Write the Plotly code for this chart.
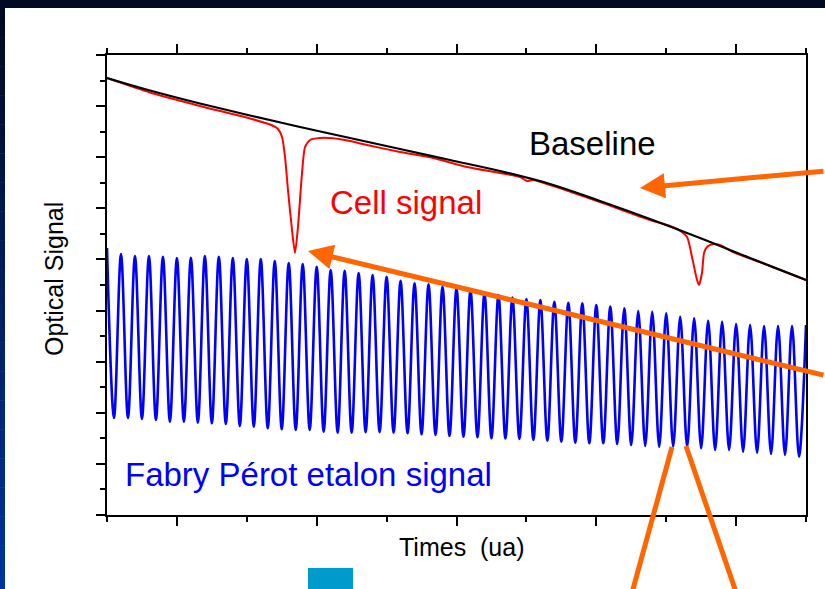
import numpy as np
import plotly.graph_objects as go

# ---- data (time in arbitrary units, optical signal in arbitrary units) ----
baseline_t = [0.0, 0.615, 1.330, 2.046, 2.761, 3.476, 4.192, 4.907, 5.622, 6.338,
              7.053, 7.768, 8.484, 9.199, 10.0]
baseline_v = [8.550, 8.305, 8.051, 7.816, 7.591, 7.376, 7.161, 6.946, 6.730, 6.476,
              6.144, 5.792, 5.420, 5.028, 4.598]

cell_t = [0.0, 0.615, 1.330, 2.046, 2.332, 2.446, 2.504, 2.547, 2.589, 2.647, 2.690,
          2.732, 2.790, 2.833, 2.904, 3.047, 3.233, 3.476, 3.720, 4.192, 4.664, 5.150,
          5.622, 5.908, 6.009, 6.094, 6.338, 7.053, 7.768, 8.054, 8.155, 8.298, 8.369,
          8.441, 8.469, 8.512, 8.541, 8.584, 8.670, 8.770, 8.956, 9.485, 10.0]
cell_v = [8.550, 8.266, 8.003, 7.758, 7.640, 7.553, 7.396, 7.004, 6.359, 5.576, 5.126,
          5.635, 6.691, 7.200, 7.337, 7.376, 7.370, 7.317, 7.239, 7.102, 6.985, 6.809,
          6.692, 6.613, 6.535, 6.555, 6.457, 6.124, 5.772, 5.655, 5.596, 5.439, 5.048,
          4.598, 4.500, 4.735, 5.126, 5.244, 5.302, 5.283, 5.146, 4.872, 4.598]

# Fabry-Perot fringes: one maximum every 0.2 time units, minima half-way between
fringe_peak_t = np.round(np.arange(51) * 0.2, 2)
fringe_peak_v = [5.224, 5.107, 5.067, 5.067, 5.054, 5.028, 5.034, 5.067, 5.054, 5.028,
                 5.009, 5.009, 4.970, 4.931, 4.911, 4.858, 4.794, 4.780, 4.735, 4.696,
                 4.662, 4.584, 4.533, 4.514, 4.467, 4.436, 4.402, 4.338, 4.304, 4.255,
                 4.226, 4.207, 4.173, 4.154, 4.142, 4.109, 4.076, 4.044, 3.991, 3.978,
                 3.946, 3.880, 3.849, 3.802, 3.782, 3.737, 3.717, 3.698, 3.698, 3.698,
                 3.717]
fringe_valley_t = np.round(fringe_peak_t[:-1] + 0.1, 2)
fringe_valley_v = [1.898, 1.898, 1.878, 1.859, 1.825, 1.825, 1.806, 1.794, 1.780, 1.741,
                   1.728, 1.696, 1.677, 1.663, 1.663, 1.630, 1.610, 1.610, 1.620, 1.620,
                   1.610, 1.598, 1.579, 1.565, 1.546, 1.532, 1.520, 1.501, 1.497, 1.487,
                   1.467, 1.454, 1.434, 1.415, 1.403, 1.403, 1.389, 1.370, 1.350, 1.336,
                   1.340, 1.336, 1.305, 1.272, 1.272, 1.239, 1.219, 1.193, 1.174, 1.141]

x_major = [1, 3, 5, 7, 9]
x_minor = [0, 2, 4, 6, 8, 10]
y_major = list(range(0, 10))
y_minor = [i + 0.5 for i in range(9)]

# interleave maxima and minima into one trace
etalon_t, etalon_v = [], []
for i in range(len(fringe_peak_t)):
    etalon_t.append(fringe_peak_t[i])
    etalon_v.append(fringe_peak_v[i])
    if i < len(fringe_valley_t):
        etalon_t.append(fringe_valley_t[i])
        etalon_v.append(fringe_valley_v[i])

FONT = "Liberation Sans, Arial, Helvetica, sans-serif"
ORANGE = "#FF6600"

fig = go.Figure()
fig.add_trace(go.Scatter(x=etalon_t, y=etalon_v, mode="lines",
                         line=dict(color="#0000FF", width=2.6, shape="spline", smoothing=1.0),
                         hoverinfo="skip"))
fig.add_trace(go.Scatter(x=cell_t, y=cell_v, mode="lines",
                         line=dict(color="#FF0000", width=2, shape="spline", smoothing=0.6),
                         hoverinfo="skip"))
fig.add_trace(go.Scatter(x=baseline_t, y=baseline_v, mode="lines",
                         line=dict(color="#000000", width=2.2, shape="spline", smoothing=1.0),
                         hoverinfo="skip"))

# page frame: dark band on top and a dark-to-blue strip on the left
W, H = 825, 589
L, R, T, B = 107, 19, 55, 74
pw, ph = W - L - R, H - T - B


def px_x(px):
    return (px - L) / pw


def px_y(py):
    return (H - B - py) / ph


shapes = []
shapes.append(dict(type="rect", xref="paper", yref="paper", layer="above",
                   x0=px_x(-2), x1=px_x(W + 2), y0=px_y(8), y1=px_y(-2),
                   fillcolor="#000A22", line=dict(width=0)))
n_strip = 40
c_top = np.array([0, 10, 34])
c_bot = np.array([0, 52, 160])
for i in range(n_strip):
    f = i / (n_strip - 1)
    c = (c_top + (c_bot - c_top) * f).astype(int)
    y0p = 8 + (H - 8) * i / n_strip
    y1p = 8 + (H - 8) * (i + 1) / n_strip
    shapes.append(dict(type="rect", xref="paper", yref="paper", layer="above",
                       x0=px_x(-2), x1=px_x(5), y0=px_y(y1p + 0.5), y1=px_y(y0p),
                       fillcolor="rgb(%d,%d,%d)" % tuple(c), line=dict(width=0)))

# small blue tab at the bottom
shapes.append(dict(type="rect", xref="paper", yref="paper", layer="above",
                   x0=px_x(308), x1=px_x(353), y0=px_y(H + 3), y1=px_y(568),
                   fillcolor="#009BCD", line=dict(width=0)))

# two orange lines pointing at one fringe minimum
for (xa, ya, xb, yb) in [(631.4, 595, 672, 447), (737, 595, 686, 446)]:
    shapes.append(dict(type="line", xref="paper", yref="paper", layer="above",
                       x0=px_x(xa), y0=px_y(ya), x1=px_x(xb), y1=px_y(yb),
                       line=dict(color=ORANGE, width=5)))

annotations = [
    dict(x=6.94, y=7.259, xref="x", yref="y", text="Baseline", showarrow=False,
         font=dict(family=FONT, size=33, color="#000000"), xanchor="center", yanchor="middle"),
    dict(x=4.278, y=6.124, xref="x", yref="y", text="Cell signal", showarrow=False,
         font=dict(family=FONT, size=33, color="#FF0000"), xanchor="center", yanchor="middle"),
    dict(x=2.876, y=0.783, xref="x", yref="y", text="Fabry Pérot etalon signal", showarrow=False,
         font=dict(family=FONT, size=33, color="#0000FF"), xanchor="center", yanchor="middle"),
    dict(x=px_x(461.5), y=px_y(547), xref="paper", yref="paper", text="Times  (ua)",
         showarrow=False, font=dict(family=FONT, size=25, color="#000000"),
         xanchor="center", yanchor="middle"),
    dict(x=px_x(54), y=px_y(279), xref="paper", yref="paper", text="Optical Signal",
         showarrow=False, textangle=-90, font=dict(family=FONT, size=25, color="#000000"),
         xanchor="center", yanchor="middle"),
    # orange arrows
    dict(x=px_x(640), y=px_y(188), xref="paper", yref="paper", text="", showarrow=True,
         ax=840 - 640, ay=171 - 188, axref="pixel", ayref="pixel",
         arrowhead=2, arrowsize=1.0, arrowwidth=5, arrowcolor=ORANGE),
    dict(x=px_x(308), y=px_y(251), xref="paper", yref="paper", text="", showarrow=True,
         ax=840 - 308, ay=375.5 - 251, axref="pixel", ayref="pixel",
         arrowhead=2, arrowsize=1.0, arrowwidth=5, arrowcolor=ORANGE),
]

axis_common = dict(showgrid=False, zeroline=False, showticklabels=False,
                   showline=True, linecolor="#000000", linewidth=2,
                   ticks="outside", ticklen=9, tickwidth=2, tickcolor="#000000")

fig.update_layout(
    width=W, height=H,
    margin=dict(l=L, r=R, t=T, b=B),
    paper_bgcolor="#FFFFFF", plot_bgcolor="#FFFFFF",
    showlegend=False,
    xaxis=dict(range=[0, 10], tickmode="array", tickvals=x_major, mirror="ticks",
               minor=dict(tickmode="array", tickvals=x_minor, ticks="outside",
                          ticklen=5, tickwidth=2, tickcolor="#000000"),
               **axis_common),
    yaxis=dict(range=[0, 9], tickmode="array", tickvals=y_major, mirror=True,
               minor=dict(tickmode="array", tickvals=y_minor, ticks="outside",
                          ticklen=5, tickwidth=2, tickcolor="#000000"),
               **axis_common),
    shapes=shapes,
    annotations=annotations,
)

fig.write_html("out.html")
